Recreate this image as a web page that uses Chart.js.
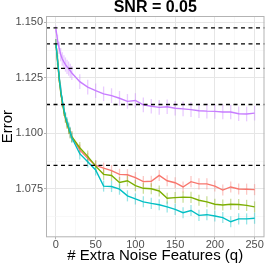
<!DOCTYPE html>
<html>
<head>
<meta charset="utf-8">
<script src="https://cdn.jsdelivr.net/npm/chart.js@4.4.1/dist/chart.umd.min.js"></script>
<style>
  html, body { margin: 0; padding: 0; background: #fff; }
</style>
</head>
<body>
<canvas id="chart" width="266" height="266"></canvas>
<script>
// number of extra noise features
const q = [0, 2, 4, 6, 8, 10, 12, 14, 16, 18, 20, 30, 40, 50, 60, 70, 80, 90, 100,
  110, 120, 130, 140, 150, 160, 170, 180, 190, 200, 210, 220, 230, 240, 250];

const errRed = [1.1405, 1.1330, 1.1255, 1.1190, 1.1142, 1.1102, 1.1070, 1.1045, 1.1022, 1.1002, 1.0985,
  1.0925, 1.0887, 1.0855, 1.0843, 1.0832, 1.0815, 1.0813, 1.0800, 1.0782, 1.0784, 1.0810,
  1.0786, 1.0777, 1.0758, 1.0782, 1.0772, 1.0772, 1.0762, 1.0744, 1.0758, 1.0749, 1.0748, 1.0746];
const errGreen = [1.1405, 1.1328, 1.1250, 1.1185, 1.1140, 1.1100, 1.1068, 1.1042, 1.1020, 1.1000, 1.0985,
  1.0935, 1.0896, 1.0852, 1.0815, 1.0810, 1.0778, 1.0786, 1.0764, 1.0752, 1.0750, 1.0740,
  1.0707, 1.0710, 1.0712, 1.0711, 1.0698, 1.0691, 1.0680, 1.0677, 1.0680, 1.0679, 1.0675, 1.0668];
const errCyan = [1.1405, 1.1332, 1.1258, 1.1195, 1.1148, 1.1108, 1.1075, 1.1050, 1.1028, 1.1005, 1.0980,
  1.0908, 1.0872, 1.0835, 1.0762, 1.0760, 1.0748, 1.0718, 1.0704, 1.0691, 1.0684, 1.0678,
  1.0668, 1.0657, 1.0642, 1.0652, 1.0630, 1.0633, 1.0627, 1.0620, 1.0601, 1.0614, 1.0614, 1.0617];
const errPurple = [1.1470, 1.1420, 1.1385, 1.1355, 1.1335, 1.1322, 1.1310, 1.1300, 1.1292, 1.1282, 1.1272,
  1.1233, 1.1208, 1.1192, 1.1178, 1.1170, 1.1158, 1.1144, 1.1148, 1.1128, 1.1122, 1.1117,
  1.1120, 1.1113, 1.1110, 1.1107, 1.1102, 1.1100, 1.1099, 1.1096, 1.1096, 1.1088, 1.1087, 1.1091];

// half-length of the error bars
const seRed = [0.0020, 0.0022, 0.0022, 0.0022, 0.0022, 0.0022, 0.0022, 0.0022, 0.0024, 0.0024, 0.0024,
  0.0025, 0.0025, 0.0025, 0.0025, 0.0025, 0.0025, 0.0025, 0.0025, 0.0025, 0.0025, 0.0025,
  0.0025, 0.0025, 0.0025, 0.0025, 0.0025, 0.0025, 0.0025, 0.0025, 0.0025, 0.0025, 0.0025, 0.0025];
const seGreen = [0.0020, 0.0022, 0.0022, 0.0022, 0.0022, 0.0022, 0.0022, 0.0022, 0.0024, 0.0024, 0.0024,
  0.0026, 0.0026, 0.0025, 0.0025, 0.0025, 0.0025, 0.0025, 0.0025, 0.0025, 0.0025, 0.0025,
  0.0025, 0.0025, 0.0025, 0.0025, 0.0025, 0.0025, 0.0025, 0.0025, 0.0025, 0.0025, 0.0025, 0.0025];
const seCyan = [0.0020, 0.0022, 0.0022, 0.0022, 0.0022, 0.0022, 0.0022, 0.0022, 0.0024, 0.0024, 0.0024,
  0.0026, 0.0026, 0.0025, 0.0025, 0.0025, 0.0025, 0.0025, 0.0025, 0.0025, 0.0025, 0.0025,
  0.0025, 0.0025, 0.0025, 0.0025, 0.0025, 0.0025, 0.0025, 0.0025, 0.0025, 0.0025, 0.0025, 0.0025];
const sePurple = [0.0015, 0.0025, 0.0028, 0.0030, 0.0030, 0.0030, 0.0032, 0.0032, 0.0032, 0.0032, 0.0032,
  0.0033, 0.0033, 0.0033, 0.0033, 0.0033, 0.0033, 0.0033, 0.0033, 0.0033, 0.0033, 0.0033,
  0.0033, 0.0033, 0.0033, 0.0033, 0.0033, 0.0033, 0.0033, 0.0033, 0.0033, 0.0033, 0.0033, 0.0033];

// dashed reference levels
const refLevels = [1.1475, 1.1403, 1.1293, 1.1130, 1.0855];

const xTicks = [0, 50, 100, 150, 200, 250];
const xMinor = [25, 75, 125, 175, 225];
const yTicks = [1.075, 1.1, 1.125, 1.15];
const yTickLabels = ["1.075", "1.100", "1.125", "1.150"];
const yMinor = [1.0625, 1.0875, 1.1125, 1.1375];

const titleText = "SNR = 0.05";
const xTitle = "# Extra Noise Features (q)";
const yTitle = "Error";

const FONT = "'Liberation Sans', Arial, sans-serif";

// ggplot order: red, green, cyan, purple (purple ends on top)
const series = [
  { name: "red", color: "#F8766D", bar: "rgba(248,118,109,0.4)", values: errRed, se: seRed },
  { name: "green", color: "#7CAE00", bar: "rgba(124,174,0,0.4)", values: errGreen, se: seGreen },
  { name: "cyan", color: "#00BFC4", bar: "rgba(0,191,196,0.4)", values: errCyan, se: seCyan },
  { name: "purple", color: "#C77CFF", bar: "rgba(199,124,255,0.4)", values: errPurple, se: sePurple },
];

const makeTicks = (major, minor) =>
  major.map((v) => ({ value: v, isMinor: false }))
    .concat(minor.map((v) => ({ value: v, isMinor: true })))
    .sort((a, b) => a.value - b.value);

const gridColor = (c) => (c.tick && c.tick.isMinor ? "#F4F4F4" : "#E6E6E6");
const gridWidth = (c) => (c.tick && c.tick.isMinor ? 0.6 : 1);
const tickColor = (c) => (c.tick && c.tick.isMinor ? "rgba(0,0,0,0)" : "#B3B3B3");

const panel = {
  id: "panel",
  beforeDatasetsDraw(chart) {
    const { ctx, scales: { x, y } } = chart;
    ctx.save();
    ctx.lineWidth = 1.3;
    series.forEach((s) => {
      ctx.strokeStyle = s.bar;
      s.values.forEach((v, i) => {
        const px = x.getPixelForValue(q[i]);
        ctx.beginPath();
        ctx.moveTo(px, y.getPixelForValue(v - s.se[i]));
        ctx.lineTo(px, y.getPixelForValue(v + s.se[i]));
        ctx.stroke();
      });
    });
    ctx.restore();
  },
  afterDatasetsDraw(chart) {
    const { ctx, chartArea: a, scales: { y } } = chart;
    ctx.save();
    ctx.strokeStyle = "#000";
    ctx.lineWidth = 1.3;
    ctx.setLineDash([4, 3.5]);
    refLevels.forEach((v) => {
      const py = y.getPixelForValue(v);
      ctx.beginPath();
      ctx.moveTo(a.left, py);
      ctx.lineTo(a.right, py);
      ctx.stroke();
    });
    ctx.setLineDash([]);
    ctx.strokeStyle = "#B3B3B3";
    ctx.lineWidth = 1;
    ctx.strokeRect(a.left + 0.5, a.top + 0.5, a.right - a.left - 1, a.bottom - a.top - 1);
    ctx.restore();
  },
  afterDraw(chart) {
    const { ctx, chartArea: a } = chart;
    ctx.save();
    ctx.fillStyle = "#000";
    ctx.font = "bold 16px " + FONT;
    ctx.textAlign = "center";
    ctx.textBaseline = "middle";
    ctx.fillText(titleText, (a.left + a.right) / 2, 8);
    ctx.restore();
  },
};

new Chart(document.getElementById("chart"), {
  type: "line",
  data: {
    datasets: series.slice().reverse().map((s) => ({
      label: s.name,
      data: q.map((qq, i) => ({ x: qq, y: s.values[i] })),
      borderColor: s.color,
      backgroundColor: s.color,
      borderWidth: 1.4,
      pointRadius: 0,
      tension: 0,
      fill: false,
    })),
  },
  options: {
    responsive: false,
    animation: false,
    devicePixelRatio: 1,
    layout: { padding: { top: 16, right: 1.5, left: 0, bottom: 0 } },
    plugins: {
      legend: { display: false },
      tooltip: { enabled: false },
    },
    scales: {
      x: {
        type: "linear",
        min: -12.5,
        max: 262.5,
        afterBuildTicks: (s) => { s.ticks = makeTicks(xTicks, xMinor); },
        afterFit: (s) => { s.height = 28.7; },
        ticks: {
          autoSkip: false,
          maxRotation: 0,
          padding: -1,
          color: "#4D4D4D",
          font: { family: FONT, size: 11 },
          callback: (v, i, ticks) => (ticks[i].isMinor ? "" : String(v)),
        },
        grid: { color: gridColor, lineWidth: gridWidth, tickColor: tickColor, tickLength: 2 },
        border: { display: false },
        title: {
          display: true,
          text: xTitle,
          color: "#000",
          font: { family: FONT, size: 15, lineHeight: 1.2 },
          padding: { top: 0, bottom: 1 },
        },
      },
      y: {
        type: "linear",
        min: 1.0531,
        max: 1.1529,
        afterBuildTicks: (s) => { s.ticks = makeTicks(yTicks, yMinor); },
        afterFit: (s) => { s.width = 46; },
        ticks: {
          autoSkip: false,
          padding: 1,
          color: "#4D4D4D",
          font: { family: FONT, size: 11 },
          callback: (v, i, ticks) => {
            if (ticks[i].isMinor) return "";
            const k = yTicks.findIndex((t) => Math.abs(t - v) < 1e-6);
            return k >= 0 ? yTickLabels[k] : "";
          },
        },
        grid: { color: gridColor, lineWidth: gridWidth, tickColor: tickColor, tickLength: 2 },
        border: { display: false },
        title: {
          display: true,
          text: yTitle,
          color: "#000",
          font: { family: FONT, size: 15, lineHeight: 1 },
          padding: { top: 0, bottom: 0 },
        },
      },
    },
  },
  plugins: [panel],
});
</script>
</body>
</html>
